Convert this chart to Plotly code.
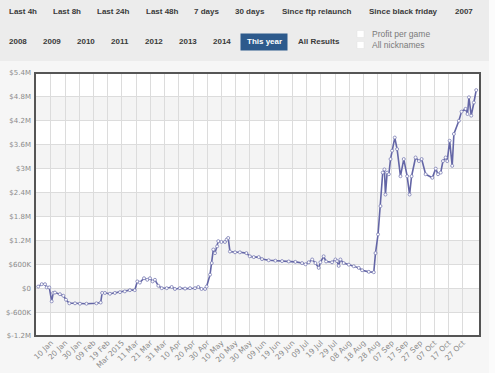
import plotly.graph_objects as go

# ---- data ----
dates = [
    "2015-01-01", "2015-01-03 12:00", "2015-01-05 19:00", "2015-01-07", "2015-01-08 19:00",
    "2015-01-10 12:00", "2015-01-11 14:00", "2015-01-12 19:00", "2015-01-16 07:00", "2015-01-18 17:00",
    "2015-01-20 14:00", "2015-01-22 22:00", "2015-01-26 22:00", "2015-01-30 10:00", "2015-02-04",
    "2015-02-11", "2015-02-14", "2015-02-15", "2015-02-17", "2015-02-20 12:00",
    "2015-02-24", "2015-02-27 14:00", "2015-03-03", "2015-03-06 14:00", "2015-03-10",
    "2015-03-11 19:00", "2015-03-13 14:00", "2015-03-16 12:00", "2015-03-18 19:00", "2015-03-20 17:00",
    "2015-03-22 14:00", "2015-03-24 05:00", "2015-03-26 14:00", "2015-03-29", "2015-04-01 12:00",
    "2015-04-05", "2015-04-07 07:00", "2015-04-10 19:00", "2015-04-14 10:00", "2015-04-17 22:00",
    "2015-04-21 10:00", "2015-04-23 17:00", "2015-04-26", "2015-04-28 12:00", "2015-04-29 14:00",
    "2015-05-02", "2015-05-03 05:00", "2015-05-04 07:00", "2015-05-05 12:00", "2015-05-07",
    "2015-05-07 19:00", "2015-05-10", "2015-05-12 12:00", "2015-05-13 17:00", "2015-05-14 19:00",
    "2015-05-16", "2015-05-19 14:00", "2015-05-23", "2015-05-27 14:00", "2015-05-30",
    "2015-06-01 19:00", "2015-06-05 07:00", "2015-06-07 14:00", "2015-06-12 07:00", "2015-06-17",
    "2015-06-21 17:00", "2015-06-26 10:00", "2015-07-01 02:00", "2015-07-05 19:00", "2015-07-08 05:00",
    "2015-07-10 12:00", "2015-07-12 22:00", "2015-07-15 05:00", "2015-07-17 12:00", "2015-07-18 17:00",
    "2015-07-21", "2015-07-22 17:00", "2015-07-26 22:00", "2015-07-29 07:00", "2015-07-30 10:00",
    "2015-07-31 14:00", "2015-08-01 19:00", "2015-08-04 02:00", "2015-08-07 17:00", "2015-08-11 05:00",
    "2015-08-14 17:00", "2015-08-17 02:00", "2015-08-21 19:00", "2015-08-25 07:00", "2015-08-26 12:00",
    "2015-08-28 07:00", "2015-08-30", "2015-08-31 14:00", "2015-09-01 19:00", "2015-09-02 12:00",
    "2015-09-03 17:00", "2015-09-04 22:00", "2015-09-06 02:00", "2015-09-07 05:00", "2015-09-09 02:00",
    "2015-09-10 17:00", "2015-09-13 02:00", "2015-09-15 10:00", "2015-09-17 19:00", "2015-09-19 12:00",
    "2015-09-20 22:00", "2015-09-23 17:00", "2015-09-26 02:00", "2015-09-28", "2015-09-30 19:00",
    "2015-10-05 12:00", "2015-10-07 22:00", "2015-10-09 12:00", "2015-10-11 10:00", "2015-10-13",
    "2015-10-14 22:00", "2015-10-16", "2015-10-17 17:00", "2015-10-19 12:00", "2015-10-20 17:00",
    "2015-10-24 05:00", "2015-10-26 02:00", "2015-10-28 22:00", "2015-10-30 07:00", "2015-10-31 07:00",
    "2015-11-01 22:00", "2015-11-03 19:00", "2015-11-05 10:00",
]
profit_millions = [
    0.04, 0.10, 0.10, 0.02, 0.02,
    -0.33, -0.12, -0.11, -0.15, -0.19,
    -0.29, -0.38, -0.38, -0.39, -0.39,
    -0.38, -0.36, -0.12, -0.12, -0.14,
    -0.12, -0.10, -0.08, -0.05, -0.05,
    0.17, 0.14, 0.25, 0.21, 0.25,
    0.17, 0.21, 0.06, 0.00, 0.00,
    0.03, -0.02, 0.00, -0.01, 0.00,
    0.00, 0.03, -0.02, -0.02, 0.04,
    0.34, 0.63, 0.97, 0.88, 1.05,
    1.18, 1.16, 1.16, 1.22, 1.26,
    0.92, 0.90, 0.90, 0.88, 0.80,
    0.78, 0.78, 0.73, 0.70, 0.69,
    0.68, 0.67, 0.66, 0.63, 0.60,
    0.65, 0.72, 0.63, 0.51, 0.65,
    0.80, 0.67, 0.65, 0.72, 0.68,
    0.56, 0.72, 0.63, 0.59, 0.55,
    0.51, 0.45, 0.41, 0.40, 0.88,
    1.35, 2.06, 2.90, 2.98, 2.35,
    2.90, 2.86, 3.24, 3.45, 3.78,
    3.49, 2.81, 3.24, 2.81, 2.35,
    2.81, 3.28, 3.19, 3.24, 2.86,
    2.77, 3.00, 2.86, 2.90, 3.19,
    3.28, 3.19, 3.70, 3.07, 3.87,
    4.20, 4.43, 4.50, 4.37, 4.79,
    4.33, 4.66, 4.97,
]

x_tick_dates = [
    "2015-01-10", "2015-01-20", "2015-01-30", "2015-02-09", "2015-02-19", "2015-03-01",
    "2015-03-11", "2015-03-21", "2015-03-31", "2015-04-10", "2015-04-20", "2015-04-30",
    "2015-05-10", "2015-05-20", "2015-05-30", "2015-06-09", "2015-06-19", "2015-06-29",
    "2015-07-09", "2015-07-19", "2015-07-29", "2015-08-08", "2015-08-18", "2015-08-28",
    "2015-09-07", "2015-09-17", "2015-09-27", "2015-10-07", "2015-10-17", "2015-10-27",
]
x_tick_labels = [
    "10 Jan", "20 Jan", "30 Jan", "09 Feb", "19 Feb", "Mar 2015",
    "11 Mar", "21 Mar", "31 Mar", "10 Apr", "20 Apr", "30 Apr",
    "10 May", "20 May", "30 May", "09 Jun", "19 Jun", "29 Jun",
    "09 Jul", "19 Jul", "29 Jul", "08 Aug", "18 Aug", "28 Aug",
    "07 Sep", "17 Sep", "27 Sep", "07 Oct", "17 Oct", "27 Oct",
]
y_tick_vals = [-1.2, -0.6, 0, 0.6, 1.2, 1.8, 2.4, 3.0, 3.6, 4.2, 4.8, 5.4]
y_tick_labels = ["$-1.2M", "$-600K", "$0", "$600K", "$1.2M", "$1.8M", "$2.4M",
                 "$3M", "$3.6M", "$4.2M", "$4.8M", "$5.4M"]

buttons_row1 = ["Last 4h", "Last 8h", "Last 24h", "Last 48h", "7 days", "30 days",
                "Since ftp relaunch", "Since black friday", "2007"]
buttons_row2 = ["2008", "2009", "2010", "2011", "2012", "2013", "2014", "This year", "All Results"]
checkbox_labels = ["Profit per game", "All nicknames"]

# ---- layout geometry (pixels) ----
W, H = 495, 373
L, R, T, B = 35, 480, 73, 336


def px(x):
    return (x - L) / (R - L)


def py(y):
    return (B - y) / (B - T)


fig = go.Figure()
fig.add_trace(go.Scatter(
    x=dates, y=profit_millions, mode="lines+markers",
    line=dict(color="#6466a6", width=1.6),
    marker=dict(size=3, color="white", line=dict(color="#7a7cb4", width=0.8)),
    hoverinfo="skip", showlegend=False,
))

shapes = []
# page panels
shapes.append(dict(type="rect", xref="paper", yref="paper", x0=px(0), x1=px(489), y0=py(61), y1=py(0),
                   fillcolor="#ececec", line=dict(width=0), layer="below"))
shapes.append(dict(type="rect", xref="paper", yref="paper", x0=px(489), x1=px(W), y0=py(H), y1=py(0),
                   fillcolor="#fbfbfb", line=dict(width=0), layer="below"))
# alternating bands
for i in range(len(y_tick_vals) - 1):
    if i % 2 == 1:
        shapes.append(dict(type="rect", xref="paper", yref="y", x0=0, x1=1,
                           y0=y_tick_vals[i], y1=y_tick_vals[i + 1],
                           fillcolor="#f4f4f4", line=dict(width=0), layer="below"))
# frame
shapes.append(dict(type="rect", xref="paper", yref="paper", x0=0, x1=1, y0=0, y1=1,
                   line=dict(color="#555555", width=2), layer="above"))

annotations = []
font_btn = dict(family="Liberation Sans, Arial, sans-serif", size=8, color="#3a3a3a")
row1_x = [7, 51, 95, 144, 192, 233, 280, 367, 453]
for t, x in zip(buttons_row1, row1_x):
    annotations.append(dict(text="<b>%s</b>" % t, x=px(x), y=py(12), xref="paper", yref="paper",
                            xanchor="left", yanchor="middle", showarrow=False, font=font_btn))
row2_x = [7, 41, 75, 109, 143, 177, 211, 245, 296]
for t, x in zip(buttons_row2, row2_x):
    f = dict(font_btn)
    if t == "This year":
        f["color"] = "white"
    annotations.append(dict(text="<b>%s</b>" % t, x=px(x), y=py(41), xref="paper", yref="paper",
                            xanchor="left", yanchor="middle", showarrow=False, font=f))
shapes.append(dict(type="rect", xref="paper", yref="paper", x0=px(240.5), x1=px(287.5),
                   y0=py(50.5), y1=py(33.5), fillcolor="#2d5a8c", line=dict(width=0), layer="below"))
for i, t in enumerate(checkbox_labels):
    yc = 34 + i * 11
    shapes.append(dict(type="rect", xref="paper", yref="paper", x0=px(357), x1=px(364),
                       y0=py(yc + 3.5), y1=py(yc - 3.5), fillcolor="white",
                       line=dict(color="#e2e2e2", width=0.5), layer="below"))
    annotations.append(dict(text=t, x=px(370), y=py(yc), xref="paper", yref="paper",
                            xanchor="left", yanchor="middle", showarrow=False,
                            font=dict(family="Liberation Sans, Arial, sans-serif", size=8.5, color="#7a7a7a")))

fig.update_layout(
    width=W, height=H,
    margin=dict(l=L, r=W - R, t=T, b=H - B, pad=0, autoexpand=False),
    paper_bgcolor="#f6f6f6", plot_bgcolor="white",
    shapes=shapes, annotations=annotations,
    xaxis=dict(range=["2014-12-29 18:00", "2015-11-08 02:00"], tickvals=x_tick_dates, ticktext=x_tick_labels,
               tickangle=-45, showgrid=True, gridcolor="#dcdcdc", gridwidth=1, zeroline=False,
               showline=False, ticks="", automargin=False,
               tickfont=dict(family="DejaVu Sans", size=7.5, color="#8a8a8a")),
    yaxis=dict(range=[-1.2, 5.4], tickvals=y_tick_vals, ticktext=y_tick_labels,
               showgrid=True, gridcolor="#dcdcdc", gridwidth=1, zeroline=False, showline=False, ticks="",
               ticklabelstandoff=3, automargin=False,
               tickfont=dict(family="DejaVu Sans", size=7, color="#8a8a8a")),
)

fig.write_html("out.html", config={"displayModeBar": False},
               post_script="document.body.style.margin='0';document.body.style.overflow='hidden';")
